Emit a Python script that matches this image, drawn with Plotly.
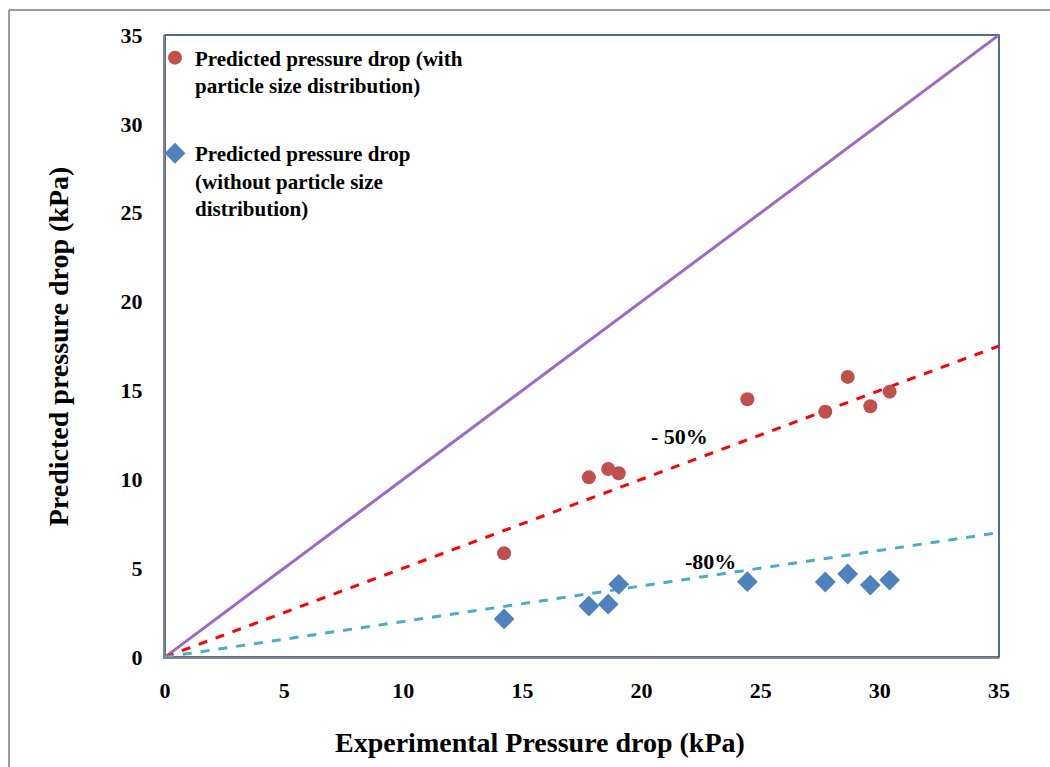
import plotly.graph_objects as go

# Experimental pressure drop (kPa) for each run
experimental = [14.23, 17.79, 18.60, 19.04, 24.44, 27.71, 28.65, 29.60, 30.41]
# Predictions with particle size distribution (kPa)
pred_with_psd = [5.84, 10.11, 10.58, 10.34, 14.50, 13.80, 15.76, 14.11, 14.93]
# Predictions without particle size distribution (kPa)
pred_without_psd = [2.14, 2.87, 2.97, 4.09, 4.24, 4.22, 4.67, 4.05, 4.33]

# Reference lines: parity, -50% and -80%
ref_x = [0, 35]
parity_y = [0, 35]
minus50_y = [0, 17.5]
minus80_y = [0, 7.0]

FONT = "Liberation Serif"

fig = go.Figure()

fig.add_trace(go.Scatter(x=ref_x, y=parity_y, mode="lines",
                         line=dict(color="#9b6bc4", width=3),
                         showlegend=False, hoverinfo="skip"))
fig.add_trace(go.Scatter(x=ref_x, y=minus50_y, mode="lines",
                         line=dict(color="#ff0000", width=3, dash="dash"),
                         showlegend=False, hoverinfo="skip"))
fig.add_trace(go.Scatter(x=ref_x, y=minus80_y, mode="lines",
                         line=dict(color="#4bacc6", width=3, dash="dash"),
                         showlegend=False, hoverinfo="skip"))

fig.add_trace(go.Scatter(
    x=experimental, y=pred_with_psd, mode="markers",
    name="Predicted pressure drop (with<br>particle size distribution)",
    legendgroup="a",
    marker=dict(symbol="circle", size=14, color="#c0504d")))
fig.add_trace(go.Scatter(
    x=experimental, y=pred_without_psd, mode="markers",
    name="Predicted pressure drop<br>(without particle size<br>distribution)",
    legendgroup="b",
    marker=dict(symbol="diamond", size=16, color="#4f81bd")))

axis_common = dict(
    range=[0, 35], dtick=5, showgrid=False, zeroline=False,
    showline=True, linecolor="#868686", linewidth=2,
    ticks="", tickfont=dict(family=FONT, size=22, color="black", weight="bold"),
)

fig.update_layout(
    width=1050, height=767,
    margin=dict(l=165, r=51, t=35, b=110),
    paper_bgcolor="white", plot_bgcolor="white",
    xaxis=dict(axis_common, ticklabelstandoff=13),
    yaxis=dict(axis_common, ticklabelstandoff=16),
    font=dict(family=FONT, color="black"),
    legend=dict(
        x=-0.012, y=0.996, xanchor="left", yanchor="top",
        bgcolor="rgba(0,0,0,0)", borderwidth=0,
        font=dict(family=FONT, size=21, color="black", weight="bold"),
        traceorder="grouped", tracegroupgap=38, itemwidth=30,
        valign="top",
    ),
    shapes=[
        # plot frame
        dict(type="rect", xref="paper", yref="paper", x0=0, y0=0, x1=1, y1=1,
             line=dict(color="#1f3a6e", width=1.5), layer="below"),
        # outer chart border
        dict(type="line", xref="paper", yref="paper", x0=-0.187, x1=-0.187,
             y0=-0.25, y1=1.040, line=dict(color="#9a9a9a", width=2)),
        dict(type="line", xref="paper", yref="paper", x0=-0.187, x1=1.1,
             y0=1.040, y1=1.040, line=dict(color="#9a9a9a", width=2)),
    ],
    annotations=[
        dict(text="Experimental Pressure drop (kPa)", xref="paper", yref="paper",
             x=0.45, y=-0.137, xanchor="center", yanchor="middle", showarrow=False,
             font=dict(family=FONT, size=28, color="black", weight="bold")),
        dict(text="Predicted pressure drop (kPa)", xref="paper", yref="paper",
             x=-0.128, y=0.5, xanchor="center", yanchor="middle", showarrow=False,
             textangle=-90,
             font=dict(family=FONT, size=28, color="black", weight="bold")),
        dict(text="- 50%", x=21.6, y=12.4, xref="x", yref="y", showarrow=False,
             font=dict(family=FONT, size=22, color="black", weight="bold")),
        dict(text="-80%", x=22.9, y=5.4, xref="x", yref="y", showarrow=False,
             font=dict(family=FONT, size=22, color="black", weight="bold")),
    ],
)

fig.write_html("out.html")
